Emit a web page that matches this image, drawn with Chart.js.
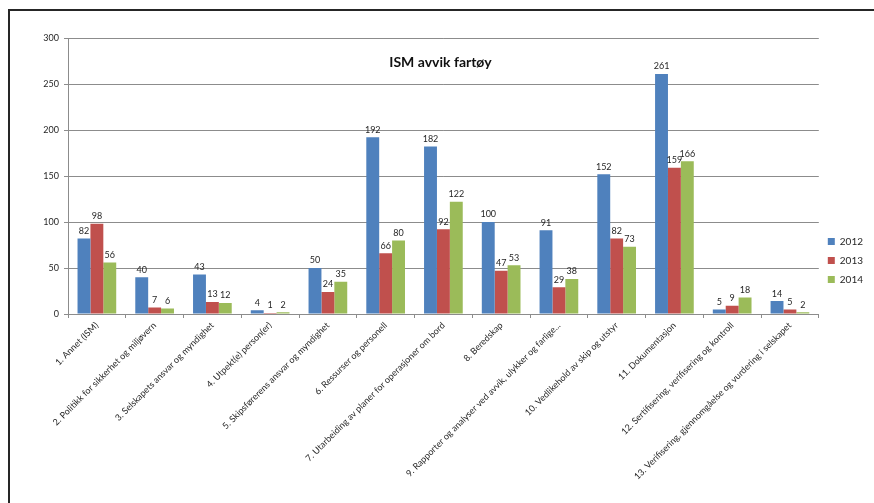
<!DOCTYPE html>
<html lang="no">
<head>
  <meta charset="UTF-8">
  <title>ISM avvik fartøy</title>
  <script src="https://cdn.jsdelivr.net/npm/chart.js"></script>
  <style>
    html, body {
      margin: 0;
      padding: 0;
      background: #ffffff;
      overflow: hidden;
    }
    #frame {
      position: absolute;
      left: 8px;
      top: 9px;
      width: 900px;
      height: 600px;
      border: 2px solid #262626;
    }
    #chartBox {
      position: absolute;
      left: 0;
      top: 0;
      width: 874px;
      height: 503px;
    }
  </style>
</head>
<body>
  <div id="frame"></div>
  <div id="chartBox">
    <canvas id="ismChart"></canvas>
  </div>

  <script>
    const categories = [
      '1. Annet (ISM)',
      '2. Politikk for sikkerhet og miljøvern',
      '3. Selskapets ansvar og myndighet',
      '4. Utpekt(e) person(er)',
      '5. Skipsførerens ansvar og myndighet',
      '6. Ressurser og personell',
      '7. Utarbeiding av planer for operasjoner om bord',
      '8. Beredskap',
      '9. Rapporter og analyser ved avvik, ulykker og farlige...',
      '10. Vedlikehold av skip og utstyr',
      '11. Dokumentasjon',
      '12. Sertifisering, verifisering og kontroll',
      '13. Verifisering, gjennomgåelse og vurdering i selskapet'
    ];
    const values2012 = [82, 40, 43, 4, 50, 192, 182, 100, 91, 152, 261, 5, 14];
    const values2013 = [98, 7, 13, 1, 24, 66, 92, 47, 29, 82, 159, 9, 5];
    const values2014 = [56, 6, 12, 2, 35, 80, 122, 53, 38, 73, 166, 18, 2];
    const seriesNames = ['2012', '2013', '2014'];
    const chartTitle = 'ISM avvik fartøy';

    const fontFamily = 'Lato, "Liberation Sans", sans-serif';
    const textColor = '#262626';
    const gridColor = '#8c8c8c';

    // value labels above each bar
    const valueLabelPlugin = {
      id: 'valueLabelPlugin',
      afterDatasetsDraw: (chart) => {
        const ctx = chart.ctx;
        ctx.save();
        ctx.font = '9px ' + fontFamily;
        ctx.fillStyle = textColor;
        ctx.textAlign = 'center';
        ctx.textBaseline = 'bottom';
        chart.data.datasets.forEach((ds, i) => {
          chart.getDatasetMeta(i).data.forEach((bar, j) => {
            ctx.fillText(ds.data[j], bar.x, bar.y - 3);
          });
        });
        ctx.restore();
      }
    };

    // title drawn inside the plot area, like the original
    const innerTitlePlugin = {
      id: 'innerTitlePlugin',
      afterDraw: (chart) => {
        const ctx = chart.ctx;
        const area = chart.chartArea;
        ctx.save();
        ctx.font = 'bold 14px ' + fontFamily;
        ctx.fillStyle = '#111111';
        ctx.textAlign = 'center';
        ctx.textBaseline = 'middle';
        ctx.fillText(chartTitle, (area.left + area.right) / 2 - 3, area.top + 24);
        ctx.restore();
      }
    };

    const ctx = document.getElementById('ismChart').getContext('2d');
    const ismChart = new Chart(ctx, {
      type: 'bar',
      data: {
        labels: categories,
        datasets: [
          { label: seriesNames[0], data: values2012, backgroundColor: '#4f81bd' },
          { label: seriesNames[1], data: values2013, backgroundColor: '#c0504d' },
          { label: seriesNames[2], data: values2014, backgroundColor: '#9bbb59' }
        ]
      },
      options: {
        responsive: true,
        maintainAspectRatio: false,
        animation: false,
        categoryPercentage: 0.67,
        barPercentage: 1.0,
        layout: {
          padding: { left: 0, right: 1, top: 38, bottom: 20 }
        },
        scales: {
          x: {
            ticks: {
              autoSkip: false,
              minRotation: 45,
              maxRotation: 45,
              color: textColor,
              padding: 2,
              font: { family: fontFamily, size: 9 }
            },
            grid: {
              offset: true,
              drawOnChartArea: false,
              drawTicks: true,
              tickLength: 4,
              color: gridColor
            },
            border: { color: gridColor },
            afterFit: (scale) => { scale.height = 503 - 20 - 314; }
          },
          y: {
            min: 0,
            max: 300,
            ticks: {
              stepSize: 50,
              color: textColor,
              padding: 5,
              font: { family: fontFamily, size: 9 }
            },
            grid: {
              color: gridColor,
              tickLength: 4
            },
            border: { color: gridColor },
            afterFit: (scale) => { scale.width = 68; }
          }
        },
        plugins: {
          legend: {
            position: 'right',
            labels: {
              boxWidth: 7,
              boxHeight: 7,
              padding: 9,
              color: textColor,
              font: { family: fontFamily, size: 10 }
            }
          },
          tooltip: { enabled: false }
        }
      },
      plugins: [valueLabelPlugin, innerTitlePlugin]
    });
  </script>
</body>
</html>
